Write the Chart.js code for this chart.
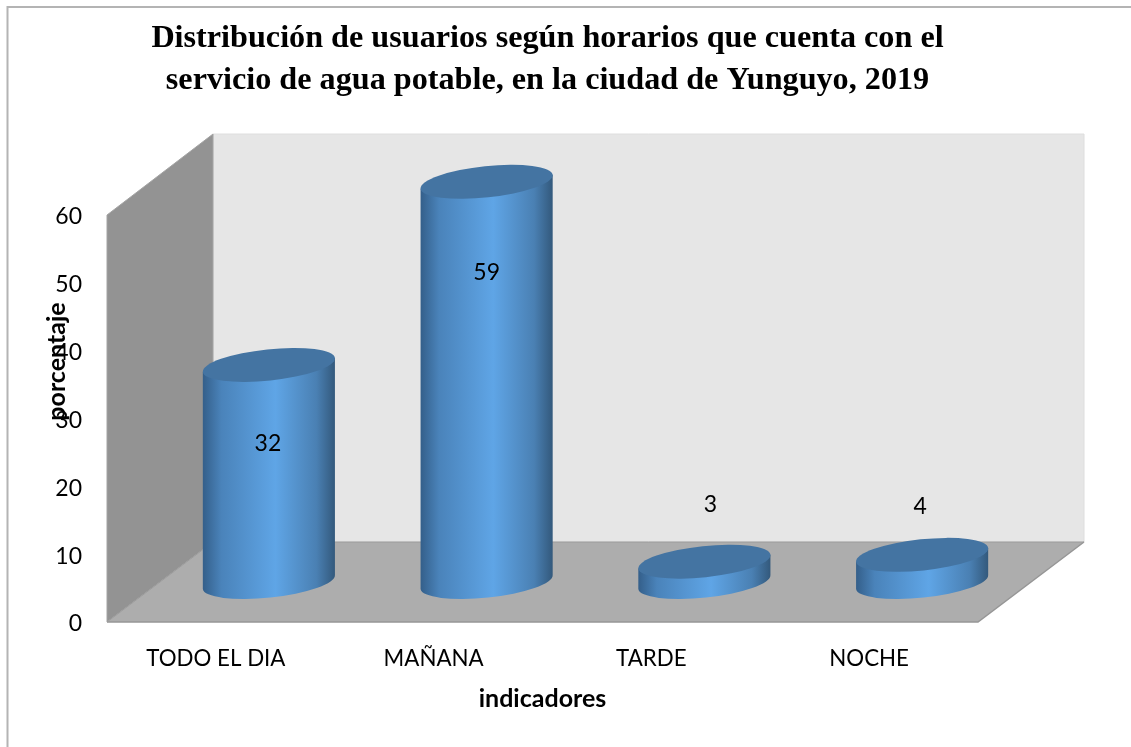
<!DOCTYPE html>
<html lang="es">
<head>
<meta charset="utf-8">
<title>Distribución de usuarios</title>
<style>html,body{margin:0;padding:0;background:#fff}#wrap{width:1131px;height:747px}canvas{display:block}</style>
<script src="https://cdn.jsdelivr.net/npm/chart.js@4/dist/chart.umd.js"></script>
</head>
<body>
<div id="wrap"><canvas id="c" width="1131" height="747"></canvas></div>
<script>
const titleLines = ["Distribución de usuarios según horarios que cuenta con el", "servicio de agua potable, en la ciudad de Yunguyo, 2019"];
const categories = ["TODO EL DIA", "MAÑANA", "TARDE", "NOCHE"];
const values = [32, 59, 3, 4];
const yAxisTitle = "porcentaje";
const xAxisTitle = "indicadores";

// Presentation settings (not data)
const DEPTH_X = 106, DEPTH_Y = 80;
const TILT = 6 * Math.PI / 180, MINOR = 15.6;
const labelShift = [[-1, 79], [0, 91], [6, -57], [-2, -48]];
const UI_FONT = "Lato";

function cylinder(ctx, cx, topY, baseY, a) {
  const sx = a * Math.cos(TILT), sy = a * Math.sin(TILT);
  const g = ctx.createLinearGradient(cx - sx, 0, cx + sx, 0);
  g.addColorStop(0, "#345f8a");
  g.addColorStop(0.14, "#4a83ba");
  g.addColorStop(0.55, "#5fa5e6");
  g.addColorStop(0.86, "#4a80b3");
  g.addColorStop(1, "#33597c");
  ctx.save();
  ctx.beginPath();
  ctx.moveTo(cx - sx, topY + sy);
  ctx.lineTo(cx - sx, baseY + sy);
  ctx.ellipse(cx, baseY, a, MINOR, -TILT, Math.PI, 0, true);
  ctx.lineTo(cx + sx, topY - sy);
  ctx.closePath();
  ctx.fillStyle = g;
  ctx.fill();
  ctx.beginPath();
  ctx.ellipse(cx, topY, a, MINOR, -TILT, 0, Math.PI * 2);
  ctx.fillStyle = "#4474a2";
  ctx.fill();
  ctx.restore();
}

const scene = {
  id: "scene",
  afterLayout(chart) {
    const tb = chart.titleBlock;
    tb.left += 5; tb.right += 5;
  },
  beforeDraw(chart) {
    const c = chart.ctx;
    c.save();
    c.strokeStyle = "#b4b4b4";
    c.lineWidth = 2;
    c.beginPath();
    c.moveTo(7.5, 747); c.lineTo(7.5, 7); c.lineTo(1131, 7);
    c.stroke();
    c.restore();
  },
  beforeDatasetsDraw(chart) {
    const c = chart.ctx, { left: l, right: r, top: t, bottom: b } = chart.chartArea;
    const dx = DEPTH_X, dy = DEPTH_Y;
    const poly = (pts, fill, stroke) => {
      c.beginPath();
      pts.forEach((p, i) => i ? c.lineTo(p[0], p[1]) : c.moveTo(p[0], p[1]));
      c.closePath();
      c.fillStyle = fill; c.fill();
      if (stroke) { c.strokeStyle = stroke; c.lineWidth = 1; c.stroke(); }
    };
    c.save();
    poly([[l + dx, t - 81], [r + dx, t - 81], [r + dx, b - dy], [l + dx, b - dy]], "#e6e6e6", "#dedede");
    poly([[l, t], [l + dx, t - 81], [l + dx, b - dy], [l, b]], "#939393", "#a4a4a4");
    poly([[l, b], [l + dx, b - dy], [r + dx, b - dy], [r, b]], "#adadad", null);
    c.strokeStyle = "#969696"; c.lineWidth = 1.5;
    c.beginPath(); c.moveTo(l, b); c.lineTo(r, b); c.lineTo(r + dx, b - dy); c.stroke();
    c.strokeStyle = "#9c9c9c"; c.lineWidth = 1;
    c.beginPath(); c.moveTo(l, b); c.lineTo(l + dx, b - dy); c.lineTo(r + dx, b - dy); c.stroke();
    c.restore();
    chart.getDatasetMeta(0).data.forEach(el => {
      el.draw = function (ctx) {
        cylinder(ctx, this.x + dx / 2, this.y - dy / 2, this.base - dy / 2, this.width / 2);
      };
    });
  },
  afterDatasetsDraw(chart) {
    const c = chart.ctx;
    c.save();
    c.font = "23px " + UI_FONT;
    c.fillStyle = "#000";
    c.textAlign = "center";
    c.textBaseline = "middle";
    chart.getDatasetMeta(0).data.forEach((el, i) => {
      c.fillText(String(values[i]),
        el.x + DEPTH_X / 2 + labelShift[i][0],
        el.y - DEPTH_Y / 2 + labelShift[i][1]);
    });
    c.restore();
  }
};

new Chart(document.getElementById("c"), {
  type: "bar",
  data: {
    labels: categories,
    datasets: [{ data: values, backgroundColor: "#5fa5e6", categoryPercentage: 1, barPercentage: 0.61, clip: false }]
  },
  plugins: [scene],
  options: {
    responsive: false,
    animation: false,
    layout: { padding: { left: 0, right: 153, top: 0, bottom: 33 } },
    plugins: {
      legend: { display: false },
      tooltip: { enabled: false },
      title: {
        display: true,
        text: titleLines,
        fullSize: false,
        color: "#000",
        font: { family: "Liberation Serif", size: 32.2, weight: "bold", lineHeight: 42 / 32.2 },
        padding: { top: 18, bottom: 113 }
      }
    },
    scales: {
      x: {
        grid: { display: false, drawTicks: false },
        border: { display: false },
        ticks: { color: "#000", font: { family: UI_FONT, size: 22.3 }, padding: 23, maxRotation: 0 },
        title: { display: true, text: xAxisTitle, color: "#000", font: { family: UI_FONT, size: 25, weight: "bold" }, padding: { top: 14, bottom: 0 } },
        afterFit(s) { s.height = 92; }
      },
      y: {
        min: 0, max: 60,
        grid: { display: false, drawTicks: false },
        border: { display: false },
        ticks: { color: "#000", stepSize: 10, font: { family: UI_FONT, size: 23 }, padding: 25, labelOffset: 2 },
        title: { display: true, text: yAxisTitle, color: "#000", font: { family: UI_FONT, size: 25, weight: "bold" }, padding: { top: 42, bottom: 0 } },
        afterFit(s) {
          s.width = 107;
          if (!s._shifted) {
            s._shifted = true;
            const orig = s.drawTitle;
            s.drawTitle = function (area) {
              const t = this.top, b = this.bottom;
              this.top = t - 57; this.bottom = b - 57;
              orig.call(this, area);
              this.top = t; this.bottom = b;
            };
          }
        }
      }
    }
  }
});
</script>
</body>
</html>
